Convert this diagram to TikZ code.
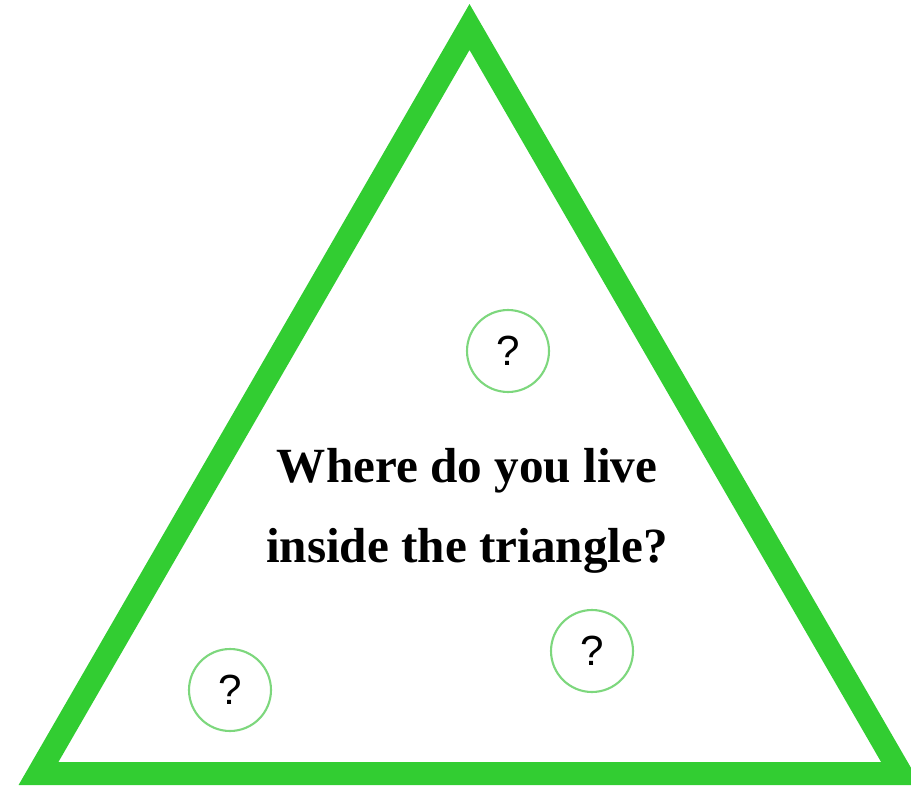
\documentclass[tikz,border=0pt]{standalone}
\usepackage{fontspec}
\setmainfont{Liberation Serif}
\newfontfamily\qfont{Liberation Sans}
\usepackage{xcolor}
\usepackage{tikz}
\usetikzlibrary{positioning}

\definecolor{trigreen}{RGB}{50,205,50}
\definecolor{ringgreen}{RGB}{125,215,125}

\begin{document}
\begin{tikzpicture}[
    x=0.02cm,
    y=-0.02cm,
    every node/.style={font=\small},
    guess/.style={circle,draw=ringgreen,line width=1.2pt,
        minimum size=1.64cm,inner sep=0pt,
        font=\qfont\fontsize{24}{24}\selectfont}
]

\useasboundingbox (0,0) rectangle (911,790);

% Triangle
\draw[trigreen,line width=0.46cm,line join=miter]
    (469.5,27) -- (38.5,773.5) -- (901,773.5) -- cycle;

% Question
\node[align=center,font=\bfseries\fontsize{28}{45.5}\selectfont]
    (question) at (467,511)
    {Where do you live\\inside the triangle?};

% Guesses
\node[guess] (top) at (508,351) {?};
\node[guess] (left) at (230,690) {?};
\node[guess] (right) at (592,651) {?};

\end{tikzpicture}
\end{document}
